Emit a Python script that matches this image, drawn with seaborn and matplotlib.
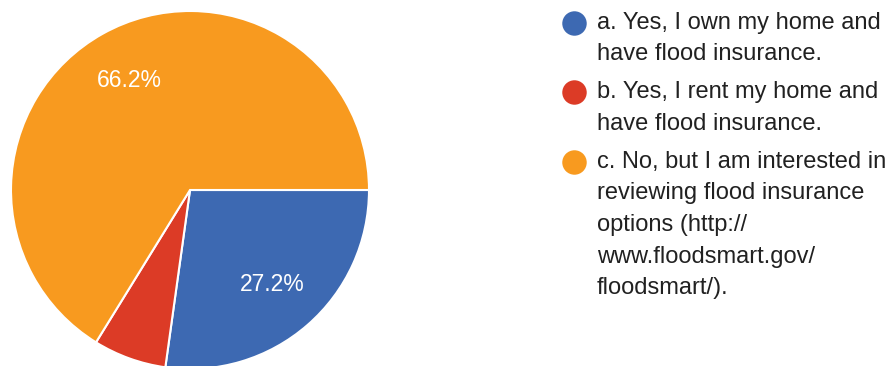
import matplotlib
matplotlib.use('Agg')
import matplotlib.pyplot as plt
import seaborn as sns

# Survey data
labels = [
    'a. Yes, I own my home and\nhave flood insurance.',
    'b. Yes, I rent my home and\nhave flood insurance.',
    'c. No, but I am interested in\nreviewing flood insurance\noptions (http://\nwww.floodsmart.gov/\nfloodsmart/).',
]
shares = [27.2, 6.6, 66.2]
colors = ['#3d69b2', '#dc3b26', '#f89a1f']

sns.set_theme(style='white')
plt.rcParams['font.family'] = ['Liberation Sans', 'DejaVu Sans']

W, H = 893, 366
fig = plt.figure(figsize=(W / 100, H / 100), dpi=100)
fig.patch.set_facecolor('white')

# Pie axes: center (190,190) px, radius ~179 px
cx, cy, r = 190, 190, 179
ax = fig.add_axes([(cx - r) / W, (H - cy - r) / H, 2 * r / W, 2 * r / H])


def pct_label(p):
    return f'{p:.1f}%' if p > 10 else ''


wedges, texts, autotexts = ax.pie(
    shares, colors=colors, startangle=0, counterclock=False,
    autopct=pct_label, pctdistance=0.70,
    wedgeprops=dict(edgecolor='white', linewidth=1.5),
    textprops=dict(color='white', fontsize=16.5),
)
for w in wedges:
    w.set_clip_on(False)
ax.set_xlim(-1, 1)
ax.set_ylim(-1, 1)
ax.set_aspect('equal')
ax.axis('off')

# Legend drawn in pixel coordinates
lax = fig.add_axes([0, 0, 1, 1])
lax.set_xlim(0, W)
lax.set_ylim(H, 0)
lax.axis('off')
entry_y = [23, 92, 162]
line_pitch = 31.5
for label, color, y0 in zip(labels, colors, entry_y):
    lax.scatter([574], [y0], s=310, color=color, linewidths=0, zorder=3)
    for i, line in enumerate(label.split('\n')):
        lax.text(597, y0 + i * line_pitch, line, fontsize=17, color='#212121',
                 ha='left', va='center')

fig.savefig('out.png', dpi=100, facecolor='white')
